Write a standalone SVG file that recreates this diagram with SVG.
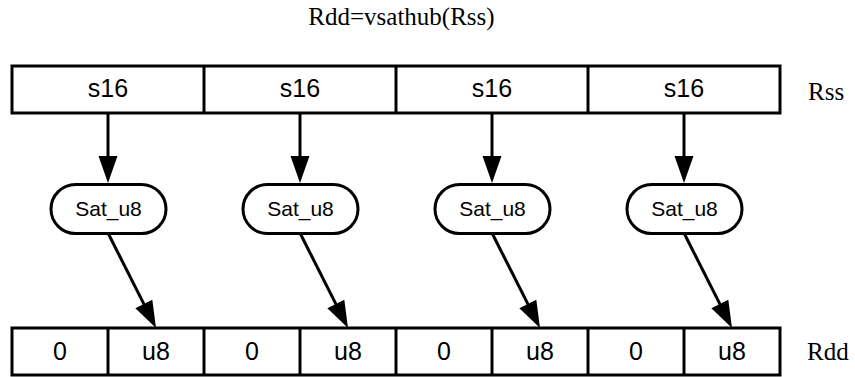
<svg xmlns="http://www.w3.org/2000/svg" width="855" height="377" viewBox="0 0 855 377">
<style>
.box{fill:#fff;stroke:#000;stroke-width:3}
.div{stroke:#000;stroke-width:3}
.sans{font-family:"Liberation Sans",Arial,sans-serif;font-size:25px;text-anchor:middle;fill:#000}
.sat{font-family:"Liberation Sans",Arial,sans-serif;font-size:21px;text-anchor:middle;fill:#000}
.serif{font-family:"Liberation Serif","Times New Roman",serif;font-size:25px;fill:#000}
.conn{stroke:#000;stroke-width:3;fill:none;marker-end:url(#ah)}
</style>
<defs>
<marker id="ah" markerUnits="userSpaceOnUse" markerWidth="28" markerHeight="20" refX="17" refY="9.5" orient="auto" overflow="visible">
<path d="M0,0 L27,9.5 L0,19 Z" fill="#000"/>
</marker>
</defs>
<text class="serif" x="401.5" y="25" text-anchor="middle">Rdd=vsathub(Rss)</text>
<g id="Rss">
<rect class="box" x="12" y="66" width="768" height="47"/>
<line class="div" x1="204" y1="66" x2="204" y2="113"/>
<line class="div" x1="396" y1="66" x2="396" y2="113"/>
<line class="div" x1="588" y1="66" x2="588" y2="113"/>
<text class="sans" x="108" y="97">s16</text>
<text class="sans" x="300" y="97">s16</text>
<text class="sans" x="492" y="97">s16</text>
<text class="sans" x="684" y="97">s16</text>
<text class="serif" x="808" y="100">Rss</text>
</g>
<g id="sat0"><rect class="box" x="51" y="184.5" width="115" height="49" rx="24.5"/><text class="sat" x="108.5" y="216">Sat_u8</text></g>
<g id="sat1"><rect class="box" x="243" y="184.5" width="115" height="49" rx="24.5"/><text class="sat" x="300.5" y="216">Sat_u8</text></g>
<g id="sat2"><rect class="box" x="435" y="184.5" width="115" height="49" rx="24.5"/><text class="sat" x="492.5" y="216">Sat_u8</text></g>
<g id="sat3"><rect class="box" x="627" y="184.5" width="115" height="49" rx="24.5"/><text class="sat" x="684.5" y="216">Sat_u8</text></g>
<g id="Rdd">
<rect class="box" x="12" y="328" width="768" height="47"/>
<line class="div" x1="108" y1="328" x2="108" y2="375"/>
<line class="div" x1="204" y1="328" x2="204" y2="375"/>
<line class="div" x1="300" y1="328" x2="300" y2="375"/>
<line class="div" x1="396" y1="328" x2="396" y2="375"/>
<line class="div" x1="492" y1="328" x2="492" y2="375"/>
<line class="div" x1="588" y1="328" x2="588" y2="375"/>
<line class="div" x1="684" y1="328" x2="684" y2="375"/>
<text class="sans" x="60" y="360">0</text>
<text class="sans" x="156" y="360">u8</text>
<text class="sans" x="252" y="360">0</text>
<text class="sans" x="348" y="360">u8</text>
<text class="sans" x="444" y="360">0</text>
<text class="sans" x="540" y="360">u8</text>
<text class="sans" x="636" y="360">0</text>
<text class="sans" x="732" y="360">u8</text>
<text class="serif" x="807" y="360">Rdd</text>
</g>
<g id="connectors">
<line class="conn" x1="108" y1="113" x2="108" y2="173"/>
<line class="conn" x1="300" y1="113" x2="300" y2="173"/>
<line class="conn" x1="492" y1="113" x2="492" y2="173"/>
<line class="conn" x1="684" y1="113" x2="684" y2="173"/>
<line class="conn" x1="108.5" y1="234" x2="151.5" y2="319.1"/>
<line class="conn" x1="300.5" y1="234" x2="343.5" y2="319.1"/>
<line class="conn" x1="492.5" y1="234" x2="535.5" y2="319.1"/>
<line class="conn" x1="684.5" y1="234" x2="727.5" y2="319.1"/>
</g>
</svg>
